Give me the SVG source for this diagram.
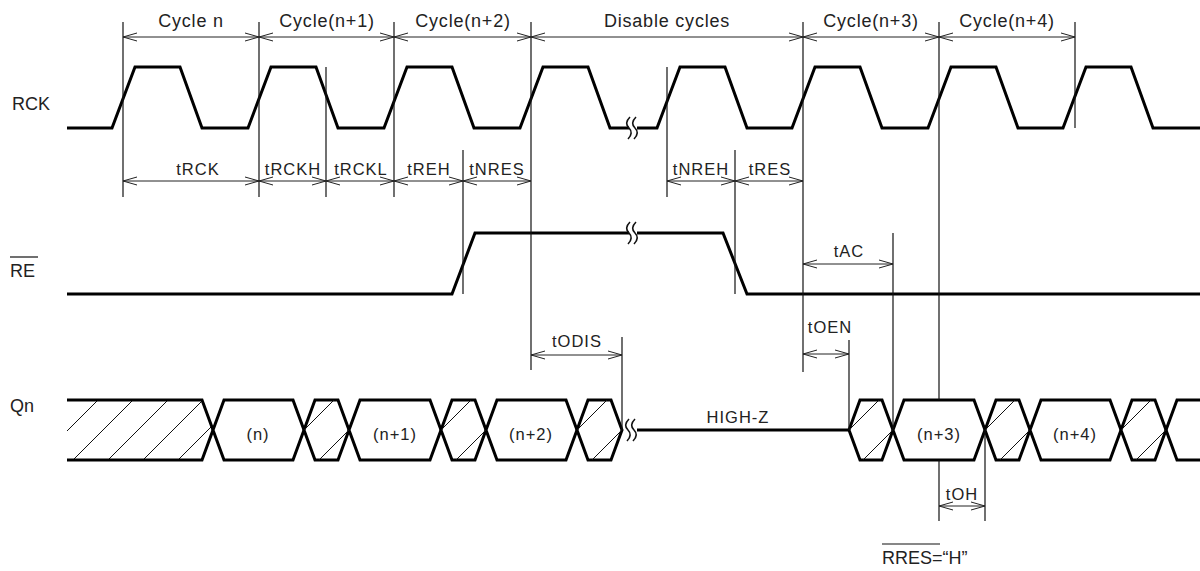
<svg xmlns="http://www.w3.org/2000/svg" width="1200" height="571" viewBox="0 0 1200 571">
<defs>
<marker id="chev" markerUnits="userSpaceOnUse" markerWidth="16" markerHeight="10" refX="14" refY="5" orient="auto-start-reverse">
<path d="M0,1 L14,5 L0,9" fill="none" stroke="#222" stroke-width="1"/>
</marker>
<clipPath id="clipFirst"><polygon points="67,400 202,400 213,430 202,460 67,460"/></clipPath>
<g id="brk" fill="none" stroke="#111" stroke-width="1.6">
<path d="M2,-11 C-2,-7 -2,-3 1,0 C4,3 4,7 0,11"/>
<path d="M8,-11 C4,-7 4,-3 7,0 C10,3 10,7 6,11"/>
</g>
</defs>
<style>
.sig{fill:none;stroke:#000;stroke-width:3;stroke-linejoin:miter}
.bus{fill:#fff;stroke:#000;stroke-width:3;stroke-linejoin:miter}
.thin{stroke:#111;stroke-width:1.2;fill:none}
.hatch{stroke:#111;stroke-width:1;fill:none}
.dim{stroke:#222;stroke-width:1;fill:none;marker-start:url(#chev);marker-end:url(#chev)}
.t{font-family:"Liberation Sans",Arial,sans-serif;fill:#222}
.cyc{font-size:18px;letter-spacing:0.8px;text-anchor:middle}
.tm{font-size:16.5px;letter-spacing:1px;text-anchor:middle}
.lbl{font-size:18px}
</style>
<rect width="1200" height="571" fill="#fff"/>

<g id="RCK">
<text class="t lbl" x="12" y="110">RCK</text>
<path class="sig" d="M67,128 H112 L135,67 H180 L202,128 H248 L271,67 H316 L338,128 H384 L407,67 H452 L474,128 H520 L543,67 H588 L610,128 H629 M637,128 H657 L680,67 H725 L747,128 H792 L815,67 H860 L882,128 H928 L951,67 H996 L1018,128 H1063 L1086,67 H1131 L1153,128 H1200"/>
<use href="#brk" x="628" y="128"/>
</g>

<g id="RE">
<text class="t lbl" x="10" y="277">RE</text>
<line class="thin" x1="10" y1="257" x2="38" y2="257"/>
<path class="sig" d="M67,294 H452 L475,233 H629 M637,233 H723 L747,294 H1200"/>
<use href="#brk" x="628" y="233"/>
</g>

<g id="Qn">
<text class="t lbl" x="10" y="412">Qn</text>
<polygon points="67,400 202,400 213,430 202,460 67,460" fill="#fff" stroke="none"/>
<g clip-path="url(#clipFirst)" class="hatch">
<line x1="38" y1="460" x2="98" y2="400"/>
<line x1="73" y1="460" x2="133" y2="400"/>
<line x1="108" y1="460" x2="168" y2="400"/>
<line x1="143" y1="460" x2="203" y2="400"/>
<line x1="178" y1="460" x2="238" y2="400"/>
</g>
<path class="sig" d="M67,400 H202 L213,430 L202,460 H67"/>
<polygon class="bus" points="213,430 224,400 293,400 304,430 293,460 224,460"/>
<polygon class="bus" points="304,430 315,400 338,400 349,430 338,460 315,460"/>
<polygon class="bus" points="349,430 360,400 430,400 441,430 430,460 360,460"/>
<polygon class="bus" points="441,430 452,400 475,400 486,430 475,460 452,460"/>
<polygon class="bus" points="486,430 497,400 566,400 577,430 566,460 497,460"/>
<polygon class="bus" points="577,430 588,400 611,400 622,430 611,460 588,460"/>
<polygon class="bus" points="849,430 860,400 882,400 893,430 882,460 860,460"/>
<polygon class="bus" points="893,430 904,400 974,400 985,430 974,460 904,460"/>
<polygon class="bus" points="985,430 996,400 1019,400 1030,430 1019,460 996,460"/>
<polygon class="bus" points="1030,430 1041,400 1110,400 1121,430 1110,460 1041,460"/>
<polygon class="bus" points="1121,430 1132,400 1155,400 1166,430 1155,460 1132,460"/>
<path class="sig" d="M1202,400 H1177 L1166,430 L1177,460 H1202"/>
<g class="hatch">
<line x1="304" y1="430" x2="334" y2="400"/><line x1="319" y1="460" x2="349" y2="430"/>
<line x1="441" y1="430" x2="471" y2="400"/><line x1="456" y1="460" x2="486" y2="430"/>
<line x1="577" y1="430" x2="607" y2="400"/><line x1="592" y1="460" x2="622" y2="430"/>
<line x1="849" y1="430" x2="879" y2="400"/><line x1="863" y1="460" x2="893" y2="430"/>
<line x1="985" y1="430" x2="1015" y2="400"/><line x1="1000" y1="460" x2="1030" y2="430"/>
<line x1="1121" y1="430" x2="1151" y2="400"/><line x1="1136" y1="460" x2="1166" y2="430"/>
</g>
<path class="sig" d="M637,430 H849"/>
<use href="#brk" x="627" y="430"/>
<text class="t tm" x="258" y="440">(n)</text>
<text class="t tm" x="395" y="440">(n+1)</text>
<text class="t tm" x="531" y="440">(n+2)</text>
<text class="t tm" x="939" y="440">(n+3)</text>
<text class="t tm" x="1075" y="440">(n+4)</text>
<text class="t tm" x="738" y="423">HIGH-Z</text>
</g>

<g id="connectors">
<g class="thin">
<line x1="123" y1="22" x2="123" y2="197"/>
<line x1="259" y1="22" x2="259" y2="197"/>
<line x1="326" y1="67" x2="326" y2="197"/>
<line x1="394" y1="22" x2="394" y2="197"/>
<line x1="463" y1="150" x2="463" y2="294"/>
<line x1="531" y1="22" x2="531" y2="370"/>
<line x1="667" y1="67" x2="667" y2="197"/>
<line x1="735" y1="150" x2="735" y2="294"/>
<line x1="803" y1="22" x2="803" y2="372"/>
<line x1="893" y1="233" x2="893" y2="430"/>
<line x1="849" y1="340" x2="849" y2="430"/>
<line x1="622" y1="337" x2="622" y2="430"/>
<line x1="939" y1="22" x2="939" y2="400"/>
<line x1="939" y1="460" x2="939" y2="521"/>
<line x1="985" y1="430" x2="985" y2="521"/>
<line x1="1075" y1="22" x2="1075" y2="128"/>
</g>
<g class="dim">
<line x1="123" y1="37" x2="259" y2="37"/>
<line x1="259" y1="37" x2="394" y2="37"/>
<line x1="394" y1="37" x2="531" y2="37"/>
<line x1="531" y1="37" x2="803" y2="37"/>
<line x1="803" y1="37" x2="939" y2="37"/>
<line x1="939" y1="37" x2="1075" y2="37"/>
<line x1="123" y1="181" x2="259" y2="181"/>
<line x1="259" y1="181" x2="326" y2="181"/>
<line x1="326" y1="181" x2="394" y2="181"/>
<line x1="394" y1="181" x2="463" y2="181"/>
<line x1="463" y1="181" x2="531" y2="181"/>
<line x1="667" y1="181" x2="735" y2="181"/>
<line x1="735" y1="181" x2="803" y2="181"/>
<line x1="803" y1="264" x2="893" y2="264"/>
<line x1="803" y1="354" x2="849" y2="354"/>
<line x1="531" y1="355" x2="622" y2="355"/>
<line x1="939" y1="506" x2="985" y2="506"/>
</g>
</g>

<g id="labels">
<text class="t cyc" x="191" y="27">Cycle n</text>
<text class="t cyc" x="327" y="27">Cycle(n+1)</text>
<text class="t cyc" x="463" y="27">Cycle(n+2)</text>
<text class="t cyc" x="667" y="27">Disable cycles</text>
<text class="t cyc" x="871" y="27">Cycle(n+3)</text>
<text class="t cyc" x="1007" y="27">Cycle(n+4)</text>
<text class="t tm" x="198" y="175">tRCK</text>
<text class="t tm" x="293" y="175">tRCKH</text>
<text class="t tm" x="361" y="175">tRCKL</text>
<text class="t tm" x="429" y="175">tREH</text>
<text class="t tm" x="497" y="175">tNRES</text>
<text class="t tm" x="701" y="175">tNREH</text>
<text class="t tm" x="770" y="175">tRES</text>
<text class="t tm" x="849" y="257">tAC</text>
<text class="t tm" x="830" y="333">tOEN</text>
<text class="t tm" x="577" y="347">tODIS</text>
<text class="t tm" x="962" y="500">tOH</text>
<text class="t lbl" x="882" y="564">RRES=“H”</text>
<line class="thin" x1="882" y1="544" x2="940" y2="544"/>
</g>
</svg>
